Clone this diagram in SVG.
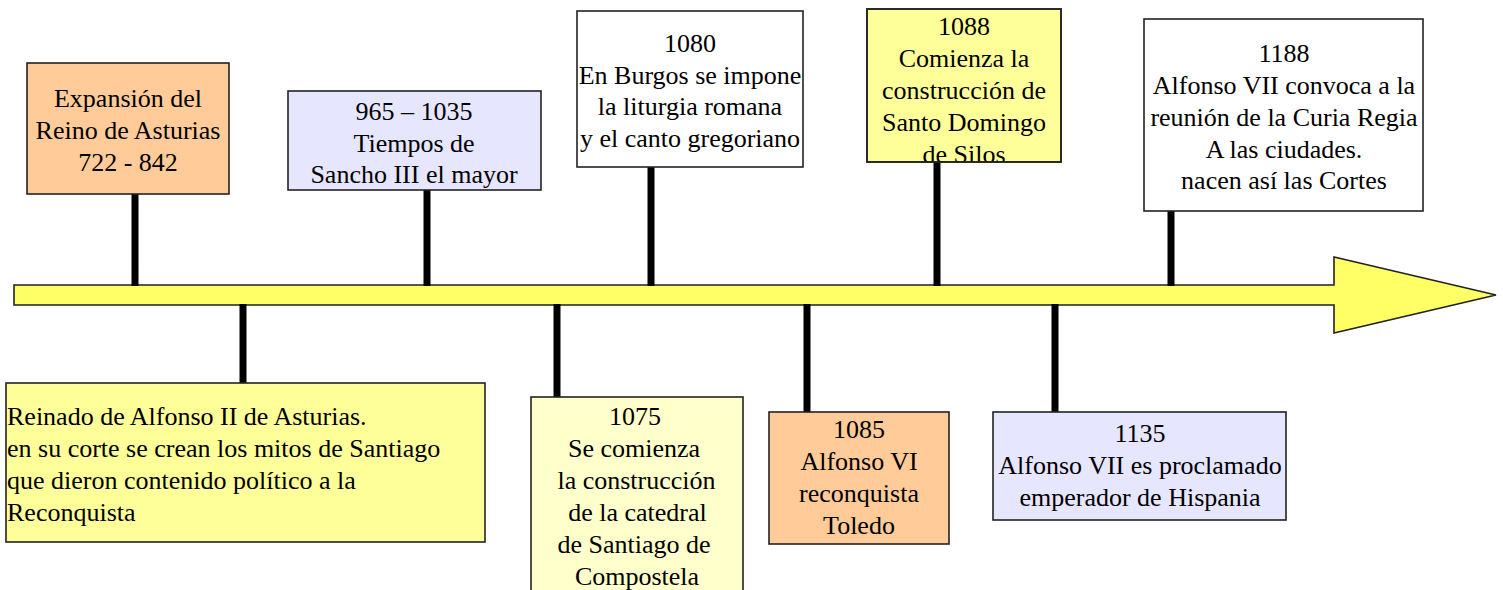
<svg xmlns="http://www.w3.org/2000/svg" width="1503" height="590" viewBox="0 0 1503 590">
<style>
.box{stroke:#222;stroke-width:1.6}
.t{font-family:"Liberation Serif","Times New Roman",serif;font-size:26px;fill:#000}
.c{text-anchor:middle}
.stem{stroke:#000;stroke-width:7}
</style>
<defs>
<clipPath id="clip1088"><rect x="867" y="9" width="194" height="153"/></clipPath>
</defs>
<rect width="1503" height="590" fill="#fff"/>
<g id="timeline">
<polygon points="14,285 1334,285 1334,257 1496,295 1334,333 1334,305 14,305" fill="#FFFF66" stroke="#222" stroke-width="1.6"/>
</g>
<g id="connectors">
<line class="stem" x1="135" y1="194" x2="135" y2="286"/>
<line class="stem" x1="427" y1="190" x2="427" y2="286"/>
<line class="stem" x1="651" y1="167" x2="651" y2="286"/>
<line class="stem" x1="937" y1="162" x2="937" y2="286"/>
<line class="stem" x1="1171" y1="211" x2="1171" y2="286"/>
<line class="stem" x1="243" y1="304" x2="243" y2="383"/>
<line class="stem" x1="557" y1="304" x2="557" y2="397"/>
<line class="stem" x1="807" y1="304" x2="807" y2="412"/>
<line class="stem" x1="1055" y1="304" x2="1055" y2="412"/>
</g>
<g id="n722">
<rect class="box" x="27" y="63" width="202" height="131" fill="#FFCC99"/>
<text class="t c" x="128" y="107">Expansión del</text>
<text class="t c" x="128" y="139">Reino de Asturias</text>
<text class="t c" x="128" y="171">722 - 842</text>
</g>
<g id="n965">
<rect class="box" x="288" y="91" width="253" height="99" fill="#E6E6FF"/>
<text class="t c" x="414" y="120">965 – 1035</text>
<text class="t c" x="414" y="152">Tiempos de</text>
<text class="t c" x="414" y="183">Sancho III el mayor</text>
</g>
<g id="n1080">
<rect class="box" x="577" y="11" width="226" height="156" fill="#fff"/>
<text class="t c" x="690" y="52">1080</text>
<text class="t c" x="690" y="83.5">En Burgos se impone</text>
<text class="t c" x="690" y="115">la liturgia romana</text>
<text class="t c" x="690" y="147">y el canto gregoriano</text>
</g>
<g id="n1088">
<rect class="box" x="867" y="9" width="194" height="153" fill="#FFFF99"/>
<g clip-path="url(#clip1088)">
<text class="t c" x="964" y="35">1088</text>
<text class="t c" x="964" y="67">Comienza la</text>
<text class="t c" x="964" y="99">construcción de</text>
<text class="t c" x="964" y="131">Santo Domingo</text>
<text class="t c" x="964" y="163">de Silos</text>
</g>
<rect x="867" y="9" width="194" height="153" fill="none" stroke="#222" stroke-width="1.6"/>
</g>
<g id="n1188">
<rect class="box" x="1144" y="19" width="279" height="192" fill="#fff"/>
<text class="t c" x="1284" y="62">1188</text>
<text class="t c" x="1284" y="94">Alfonso VII convoca a la</text>
<text class="t c" x="1284" y="126">reunión de la Curia Regia</text>
<text class="t c" x="1284" y="158">A las ciudades.</text>
<text class="t c" x="1284" y="189">nacen así las Cortes</text>
</g>
<g id="nAlfonsoII">
<rect class="box" x="6" y="383" width="479" height="159" fill="#FFFF99"/>
<text class="t" x="7" y="425">Reinado de Alfonso II de Asturias.</text>
<text class="t" x="7" y="457">en su corte se crean los mitos de Santiago</text>
<text class="t" x="7" y="489">que dieron contenido político a la</text>
<text class="t" x="7" y="521">Reconquista</text>
</g>
<g id="n1075">
<rect class="box" x="531" y="397" width="212" height="210" fill="#FFFFCC"/>
<text class="t c" x="635" y="425">1075</text>
<text class="t c" x="634" y="457">Se comienza</text>
<text class="t c" x="636.5" y="489">la construcción</text>
<text class="t c" x="637.5" y="521">de la catedral</text>
<text class="t c" x="634" y="553">de Santiago de</text>
<text class="t c" x="637" y="585">Compostela</text>
</g>
<g id="n1085">
<rect class="box" x="769" y="412" width="180" height="132" fill="#FFCC99"/>
<text class="t c" x="859" y="438">1085</text>
<text class="t c" x="859" y="470">Alfonso VI</text>
<text class="t c" x="859" y="502">reconquista</text>
<text class="t c" x="859" y="534">Toledo</text>
</g>
<g id="n1135">
<rect class="box" x="993" y="412" width="293" height="108" fill="#E6E6FF"/>
<text class="t c" x="1140" y="442">1135</text>
<text class="t c" x="1140" y="474">Alfonso VII es proclamado</text>
<text class="t c" x="1140" y="506">emperador de Hispania</text>
</g>
</svg>
